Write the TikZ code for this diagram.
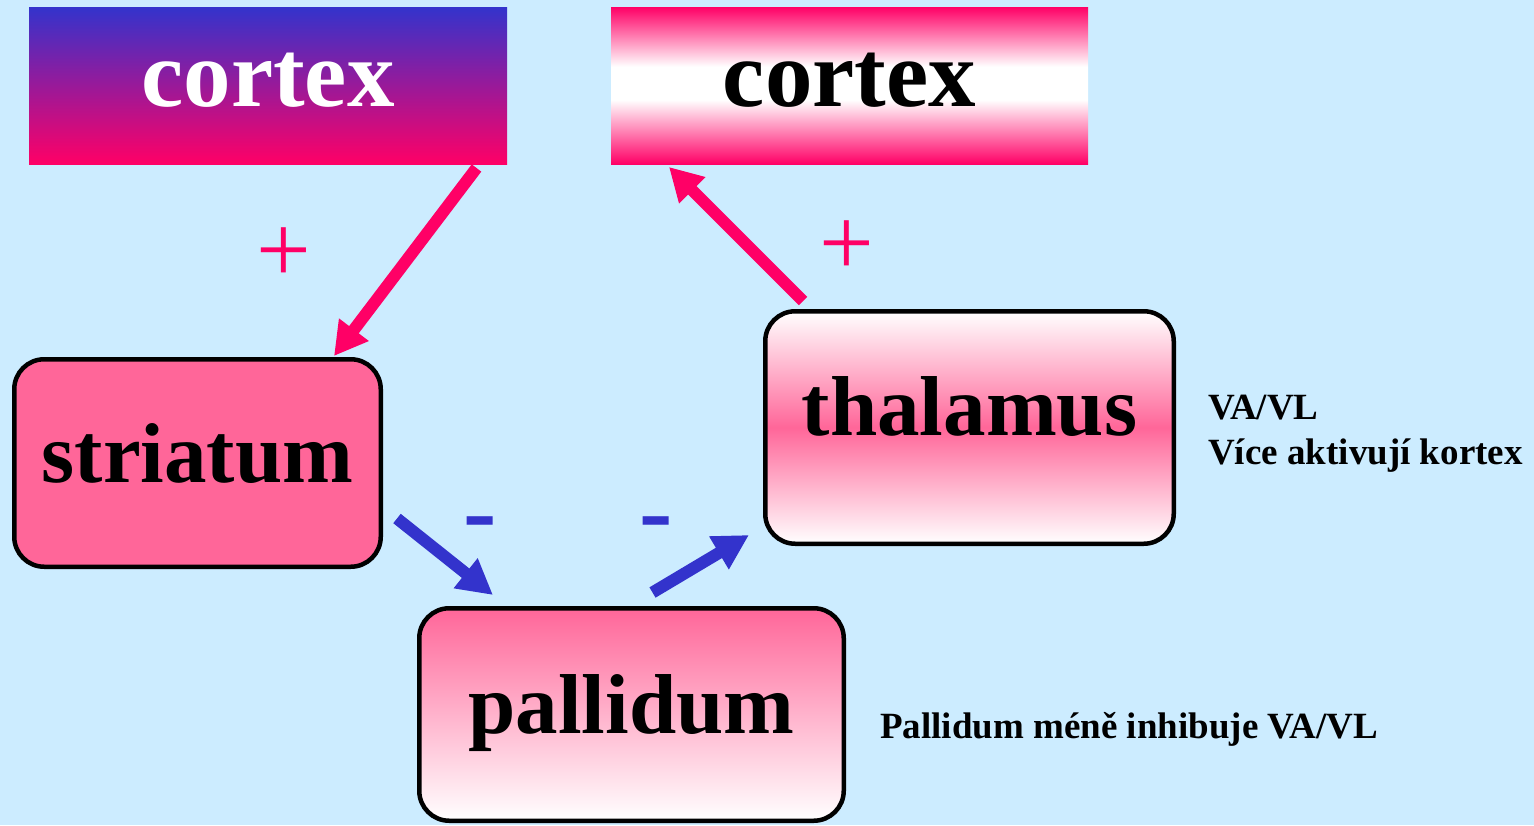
\documentclass[tikz,border=0pt]{standalone}
\usepackage{fontspec}
\setmainfont{Liberation Serif}
\usetikzlibrary{arrows.meta}
\definecolor{bgblue}{HTML}{CCECFF}
\definecolor{hotpink}{HTML}{FF0066}
\definecolor{softpink}{HTML}{FF6699}
\definecolor{arrowblue}{HTML}{3333CC}
\pgfdeclareverticalshading{pinkband}{100bp}{color(0bp)=(hotpink); color(25bp)=(hotpink); color(45.5bp)=(white); color(56bp)=(white); color(75bp)=(hotpink); color(100bp)=(hotpink)}
\tikzset{
  bigword/.style={font=\bfseries\fontsize{85}{90}\selectfont, inner sep=0pt, text depth=0pt},
  cortexbox/.style={font=\bfseries\fontsize{95}{100}\selectfont, inner sep=0pt, text depth=0pt,
    minimum width=478pt, minimum height=157pt},
  roundbox/.style={bigword, draw=black, line width=4.5pt, rounded corners=30pt},
  pinkarrow/.style={draw=hotpink, line width=12pt, -{Triangle[length=33pt,width=35pt]}},
  bluearrow/.style={draw=arrowblue, line width=12pt, -{Triangle[length=35pt,width=36pt]}},
  plussign/.style={text=hotpink, font=\fontsize{97}{100}\selectfont, inner sep=0pt, anchor=base},
  minussign/.style={text=arrowblue, font=\bfseries\fontsize{100}{100}\selectfont, inner sep=0pt, anchor=base},
  note/.style={font=\bfseries\fontsize{37}{40}\selectfont, inner sep=0pt, anchor=base west}
}
\begin{document}
\begin{tikzpicture}[x=1pt,y=-1pt]
\useasboundingbox (0,0) rectangle (1534,825);
\fill[bgblue] (0,0) rectangle (1534,825);

% boxes
\node[cortexbox, text=white, top color=arrowblue, bottom color=hotpink, text height=41pt]
  (cortexL) at (268,85.5) {cortex};
\node[cortexbox, text=black, shading=pinkband, text height=41pt,
  minimum width=477pt] (cortexR) at (849.5,85.5) {cortex};

\node[roundbox, fill=softpink, minimum width=366.5pt, minimum height=207.5pt, text height=38pt]
  (striatum) at (197.5,463) {striatum};
\node[roundbox, top color=white, bottom color=white, middle color=softpink,
  minimum width=408.5pt, minimum height=232.5pt, text height=15pt]
  (thalamus) at (969.5,427.5) {thalamus};
\node[roundbox, top color=softpink, bottom color=white,
  minimum width=424.5pt, minimum height=212.5pt, text height=37pt]
  (pallidum) at (631.5,714.5) {pallidum};

% arrow end points
\coordinate (a1s) at (476.5,168);
\coordinate (a1e) at (334,356);
\coordinate (a2s) at (803,301);
\coordinate (a2e) at (669,167);
\coordinate (b1s) at (397,518.5);
\coordinate (b1e) at (493,595);
\coordinate (b2s) at (652.5,592.5);
\coordinate (b2e) at (749,535);

\draw[pinkarrow] (a1s) -- (a1e);
\draw[pinkarrow] (a2s) -- (a2e);
\draw[bluearrow] (b1s) -- (b1e);
\draw[bluearrow] (b2s) -- (b2e);

% signs
\node[plussign] (plusL) at (283.5,282) {+};
\node[plussign] (plusR) at (847,275) {+};
\node[minussign] (minusL) at (480,544) {-};
\node[minussign] (minusR) at (656,544) {-};

% notes
\node[note] (vavl) at (1208,419) {VA/VL};
\node[note] (vice) at (1208,464) {Více aktivují kortex};
\node[note] (pallnote) at (880,738) {Pallidum méně inhibuje VA/VL};
\end{tikzpicture}
\end{document}
